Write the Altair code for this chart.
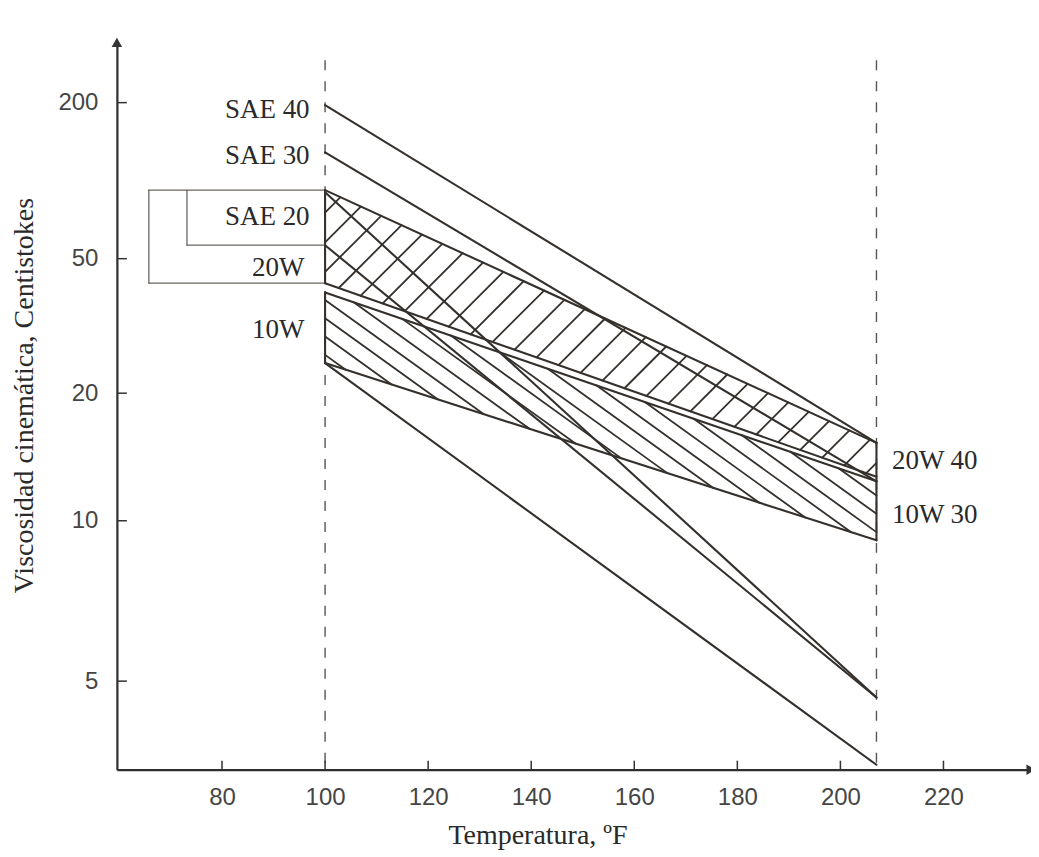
import math
import numpy as np
import pandas as pd
import altair as alt

# ---------------- values ----------------
# Straight grade lines: (temperature °F, kinematic viscosity cSt) at both ends
line_t1 = [100, 100, 100, 100, 100, 100, 100, 100, 100, 100, 100, 207]
line_v1 = [195, 123, 85.9, 55.5, 24.1, 87.5, 41.6, 38.9, 24.1, 87.5, 38.9, 15.0]
line_t2 = [207, 207, 207, 207, 207, 207, 207, 207, 207, 100, 100, 207]
line_v2 = [15.0, 12.2, 4.7, 4.7, 3.7, 15.0, 12.5, 12.2, 9.1, 41.6, 24.1, 9.1]

# Bracket boxes for the SAE 20 / 20W ranges at 100 °F
box_t1 = [65.8, 65.8, 65.8, 73.2, 73.2]
box_v1 = [87.5, 41.6, 87.5, 55.5, 87.5]
box_t2 = [100, 100, 65.8, 100, 73.2]
box_v2 = [87.5, 41.6, 41.6, 55.5, 55.5]

# Multigrade bands: viscosity at 100 °F and at 207 °F (top / bottom edges)
band_2040_top = [87.5, 15.0]
band_2040_bot = [41.6, 12.5]
band_1030_top = [38.9, 12.2]
band_1030_bot = [24.1, 9.1]

# Reference temperatures (dashed verticals)
ref_temps = [100, 207]
ref_top_v = 314

# Grade labels
lab_text = ["SAE 40", "SAE 30", "SAE 20", "20W", "10W", "20W 40", "10W 30"]
lab_t = [97.0, 97.0, 97.0, 96.0, 96.0, 210.0, 210.0]
lab_v = [185, 118.7, 69.6, 46.5, 29.9, 13.6, 10.3]
lab_align = ["right", "right", "right", "right", "right", "left", "left"]

# Axis ticks
x_ticks = [80, 100, 120, 140, 160, 180, 200, 220]
y_ticks = [5, 10, 20, 50, 200]

# ---------------- ASTM (Walther) viscosity scale ----------------
def wz(v):
    return math.log10(math.log10(v + 0.7))

W, H = 913, 728
X_DOM = [59.6, 236.6]
Y_DOM = [-0.19559, 0.4126]
INK = "#35302c"
PX_T = W / (X_DOM[1] - X_DOM[0])      # px per °F
PX_Z = H / (Y_DOM[1] - Y_DOM[0])      # px per z unit

xs = alt.Scale(domain=X_DOM, nice=False, zero=False)
ys = alt.Scale(domain=Y_DOM, nice=False, zero=False)


def seg_df(t1, v1, t2, v2):
    return pd.DataFrame({"t1": t1, "z1": [wz(v) for v in v1],
                         "t2": t2, "z2": [wz(v) for v in v2]})


def hatch(top, bot, px_slope, px_step, start):
    """parallel texture strokes clipped to a band (styling only)"""
    m = -px_slope * PX_T / PX_Z
    step = px_step / PX_T
    zt0, zt1 = wz(top[0]), wz(top[1])
    zb0, zb1 = wz(bot[0]), wz(bot[1])
    st, sb = (zt1 - zt0) / 107.0, (zb1 - zb0) / 107.0
    rows = []
    for t0 in np.arange(start, 330, step):
        c = zb0 + sb * (t0 - 100) - m * t0
        lo, hi = 100.0, 207.0
        for A, B in ((m - sb, c - zb0 + 100 * sb), (st - m, zt0 - 100 * st - c)):
            if abs(A) < 1e-12:
                if B < 0:
                    lo, hi = 1.0, 0.0
            elif A > 0:
                lo = max(lo, -B / A)
            else:
                hi = min(hi, -B / A)
        if hi - lo > 0.3:
            rows.append({"t1": lo, "z1": c + m * lo, "t2": hi, "z2": c + m * hi})
    return pd.DataFrame(rows)


def seg_layer(df, color=INK, width=2.0):
    return alt.Chart(df).mark_rule(color=color, strokeWidth=width,
                                   strokeCap="round").encode(
        x=alt.X("t1:Q", scale=xs, axis=None),
        y=alt.Y("z1:Q", scale=ys, axis=None),
        x2="t2:Q", y2="z2:Q")


# axes layer (invisible points carry the axes)
axis_df = pd.DataFrame({"t": [100.0], "z": [0.1]})
axes = alt.Chart(axis_df).mark_point(opacity=0).encode(
    x=alt.X("t:Q", scale=xs, axis=alt.Axis(
        values=x_ticks, title="Temperatura, ºF", grid=False, ticks=False,
        domainColor="#2e2e2e", domainWidth=2.2,
        labelFont="Liberation Sans", labelFontSize=24, labelColor="#454545",
        labelPadding=16, titleFont="Liberation Serif", titleFontSize=28,
        titleFontWeight="normal", titleColor="#2a2a2a",
        titleX=421, titleY=66, titleBaseline="middle")),
    y=alt.Y("z:Q", scale=ys, axis=alt.Axis(
        values=[wz(v) for v in y_ticks],
        labelExpr="format(pow(10, pow(10, datum.value)) - 0.7, '.0f')",
        title="Viscosidad cinemática, Centistokes", grid=False, ticks=False,
        domainColor="#2e2e2e", domainWidth=2.2,
        labelFont="Liberation Sans", labelFontSize=24, labelColor="#454545",
        labelPadding=19, titleFont="Liberation Serif", titleFontSize=28,
        titleFontWeight="normal", titleColor="#2a2a2a",
        titleX=-92, titleY=353, titleAngle=270, titleBaseline="middle")),
)

# inner ticks
ytick_df = pd.DataFrame({"z": [wz(v) for v in y_ticks]})
yt = alt.Chart(ytick_df).mark_rule(color="#333333", strokeWidth=1.5).encode(
    y=alt.Y("z:Q", scale=ys, axis=None), x=alt.value(0), x2=alt.value(10))
xtick_df = pd.DataFrame({"t": x_ticks})
xt = alt.Chart(xtick_df).mark_rule(color="#333333", strokeWidth=1.5).encode(
    x=alt.X("t:Q", scale=xs, axis=None), y=alt.value(H), y2=alt.value(H - 9))

# arrow heads
one = pd.DataFrame({"k": [0]})
arrow_y = alt.Chart(one).mark_point(shape="triangle-up", filled=True, size=110,
                                    color="#333333", opacity=1).encode(
    x=alt.value(0), y=alt.value(0))
arrow_x = alt.Chart(one).mark_point(shape="triangle-right", filled=True, size=110,
                                    color="#333333", opacity=1).encode(
    x=alt.value(W + 2), y=alt.value(H))

# dashed reference verticals
ref_df = pd.DataFrame({"t": ref_temps, "z": [wz(ref_top_v)] * len(ref_temps)})
refs = alt.Chart(ref_df).mark_rule(color="#555555", strokeWidth=1.4,
                                   strokeDash=[10, 11]).encode(
    x=alt.X("t:Q", scale=xs, axis=None),
    y=alt.Y("z:Q", scale=ys, axis=None), y2=alt.value(H))

boxes = seg_layer(seg_df(box_t1, box_v1, box_t2, box_v2), color="#6a6560", width=1.3)

hatch_up = seg_layer(hatch(band_2040_top, band_2040_bot, -1.0, 22.0, 60.0), width=1.8)
hatch_lo = seg_layer(hatch(band_1030_top, band_1030_bot, 0.72, 46.0, 104.0), width=1.8)
lines = seg_layer(seg_df(line_t1, line_v1, line_t2, line_v2), width=2.1)

lab_df = pd.DataFrame({"txt": lab_text, "t": lab_t,
                       "z": [wz(v) for v in lab_v], "al": lab_align})
labels_r = alt.Chart(lab_df[lab_df.al == "right"]).mark_text(
    align="right", baseline="middle", font="Liberation Serif", fontSize=27,
    color="#2a2a2a").encode(
    x=alt.X("t:Q", scale=xs, axis=None), y=alt.Y("z:Q", scale=ys, axis=None),
    text="txt:N")
labels_l = alt.Chart(lab_df[lab_df.al == "left"]).mark_text(
    align="left", baseline="middle", font="Liberation Serif", fontSize=27,
    color="#2a2a2a").encode(
    x=alt.X("t:Q", scale=xs, axis=None), y=alt.Y("z:Q", scale=ys, axis=None),
    text="txt:N")

chart = alt.layer(
    axes, refs, boxes, hatch_up, hatch_lo, lines, yt, xt, arrow_y, arrow_x,
    labels_r, labels_l
).resolve_axis(x="independent", y="independent").properties(
    width=W, height=H,
    autosize=alt.AutoSizeParams(type="none"),
    padding={"left": 109, "top": 34, "right": 2, "bottom": 86},
    background="white",
).configure_view(stroke=None)

chart.save("out.html", embed_options={"renderer": "svg", "actions": False})
